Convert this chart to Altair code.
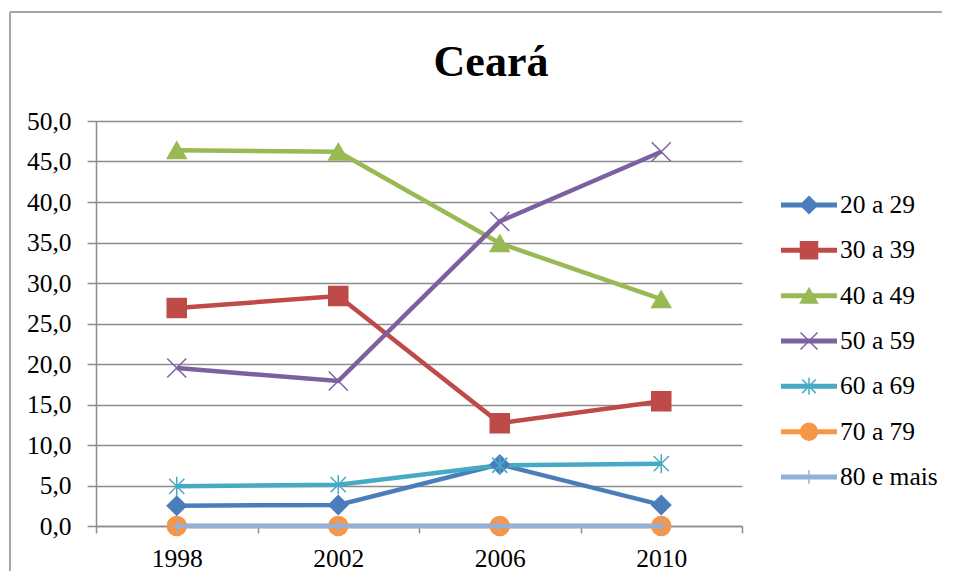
import altair as alt
import pandas as pd

anos = ["1998", "2002", "2006", "2010"]
series = ["20 a 29", "30 a 39", "40 a 49", "50 a 59", "60 a 69", "70 a 79", "80 e mais"]
v20 = [2.5, 2.6, 7.6, 2.6]
v30 = [26.9, 28.4, 12.7, 15.4]
v40 = [46.4, 46.2, 34.9, 28.0]
v50 = [19.5, 17.9, 37.6, 46.2]
v60 = [4.9, 5.1, 7.5, 7.7]
v70 = [0.0, 0.0, 0.0, 0.0]
v80 = [0.0, 0.0, 0.0, 0.0]
cores = ["#4A7EBB", "#BE4B48", "#98B954", "#7D60A0", "#46AAC5", "#F79646", "#93B1D6"]

valores = [v20, v30, v40, v50, v60, v70, v80]
rows = []
for s, vals in zip(series, valores):
    for a, v in zip(anos, vals):
        rows.append({"ano": a, "serie": s, "valor": v, "ordem": series.index(s)})
df = pd.DataFrame(rows)
df_leg = pd.DataFrame({"serie": series, "ordem": list(range(len(series)))})

FONT = "Liberation Serif"
FS = 25.5

shape_plot = [
    "diamond",
    "square",
    "triangle-up",
    "M-1,-1L1,1M-1,1L1,-1",
    "M-0.8,-0.8L0.8,0.8M-0.8,0.8L0.8,-0.8M0,-1V1",
    "circle",
    "M0,-0.8V0.8M-0.8,0H0.8",
]

cs = alt.Scale(domain=series, range=cores)
ss = alt.Scale(domain=series, range=shape_plot)
xenc = alt.X(
    "ano:O",
    bandPosition=0.5,
    scale=alt.Scale(type="band", paddingInner=0, paddingOuter=0, domain=anos),
    axis=alt.Axis(
        title=None, labelAngle=0, tickBand="extent", tickSize=7, labelPadding=13,
        grid=False, domainColor="#8C8C8C", tickColor="#8C8C8C", domainWidth=1.5, tickWidth=1.5,
    ),
)
yenc = alt.Y(
    "valor:Q",
    scale=alt.Scale(domain=[0, 50], nice=False, zero=True),
    axis=alt.Axis(
        title=None, values=list(range(0, 51, 5)), tickSize=9, labelPadding=16,
        labelExpr="replace(format(datum.value, '.1f'), '.', ',')",
        gridColor="#8C8C8C", gridWidth=1.5, domainColor="#8C8C8C", tickColor="#8C8C8C",
        domainWidth=1.5, tickWidth=1.5,
    ),
)

base = alt.Chart(df)

lines = base.mark_line(strokeWidth=4.5).encode(
    x=xenc, y=yenc,
    color=alt.Color("serie:N", scale=cs, legend=None),
    detail="serie:N",
    order=alt.Order("ano:O"),
)

pts = base.mark_point(filled=True, size=361, strokeWidth=1.5, opacity=1).encode(
    x=xenc, y=yenc,
    fill=alt.Fill("serie:N", scale=cs, legend=None),
    stroke=alt.Stroke("serie:N", scale=cs, legend=None),
    shape=alt.Shape("serie:N", scale=ss, legend=None),
    order=alt.Order("ordem:Q"),
)

last_line = base.transform_filter(alt.datum.serie == "80 e mais").mark_line(strokeWidth=4.5).encode(
    x=xenc, y=yenc,
    color=alt.Color("serie:N", scale=cs, legend=None),
)

border_top = alt.Chart(df).mark_rule(color="#A6A6A6", strokeWidth=2).encode(
    x=alt.value(-86), x2=alt.value(860), y=alt.value(-109)
)
border_left = alt.Chart(df).mark_rule(color="#A6A6A6", strokeWidth=2).encode(
    x=alt.value(-86), y=alt.value(-109), y2=alt.value(460)
)

main = alt.layer(border_top, border_left, lines, pts, last_line)

# legend (line segment + marker + label for each series)
ly = alt.Y("serie:N", scale=alt.Scale(type="point", domain=series, range=[84, 356], padding=0), axis=None)
lb = alt.Chart(df_leg)
leg_line = lb.mark_rule(strokeWidth=5).encode(
    x=alt.value(685), x2=alt.value(741), y=ly,
    color=alt.Color("serie:N", scale=cs, legend=None),
)
leg_pt = lb.mark_point(filled=True, size=289, strokeWidth=1.5, opacity=1).encode(
    x=alt.value(713), y=ly,
    fill=alt.Fill("serie:N", scale=cs, legend=None),
    stroke=alt.Stroke("serie:N", scale=cs, legend=None),
    shape=alt.Shape("serie:N", scale=ss, legend=None),
)
leg_txt = lb.mark_text(align="left", baseline="middle", font=FONT, fontSize=FS, color="black").encode(
    x=alt.value(744), y=ly, text="serie:N",
)
legend = alt.layer(leg_line, leg_pt, leg_txt)

chart = alt.layer(main, legend).resolve_scale(y="independent").properties(
    width=646,
    height=405,
    padding={"left": 88, "top": 113, "right": 200, "bottom": 45},
    autosize=alt.AutoSizeParams(type="none"),
    title=alt.TitleParams(
        text="Ceará", font=FONT, fontSize=44, fontWeight="bold", color="black",
        anchor="middle", dx=72, dy=44, offset=-65, baseline="alphabetic",
    ),
).configure_axis(
    labelFont=FONT, labelFontSize=FS, labelColor="black",
).configure_view(stroke=None)

chart.save("out.html", embed_options={"renderer": "svg", "actions": False})
